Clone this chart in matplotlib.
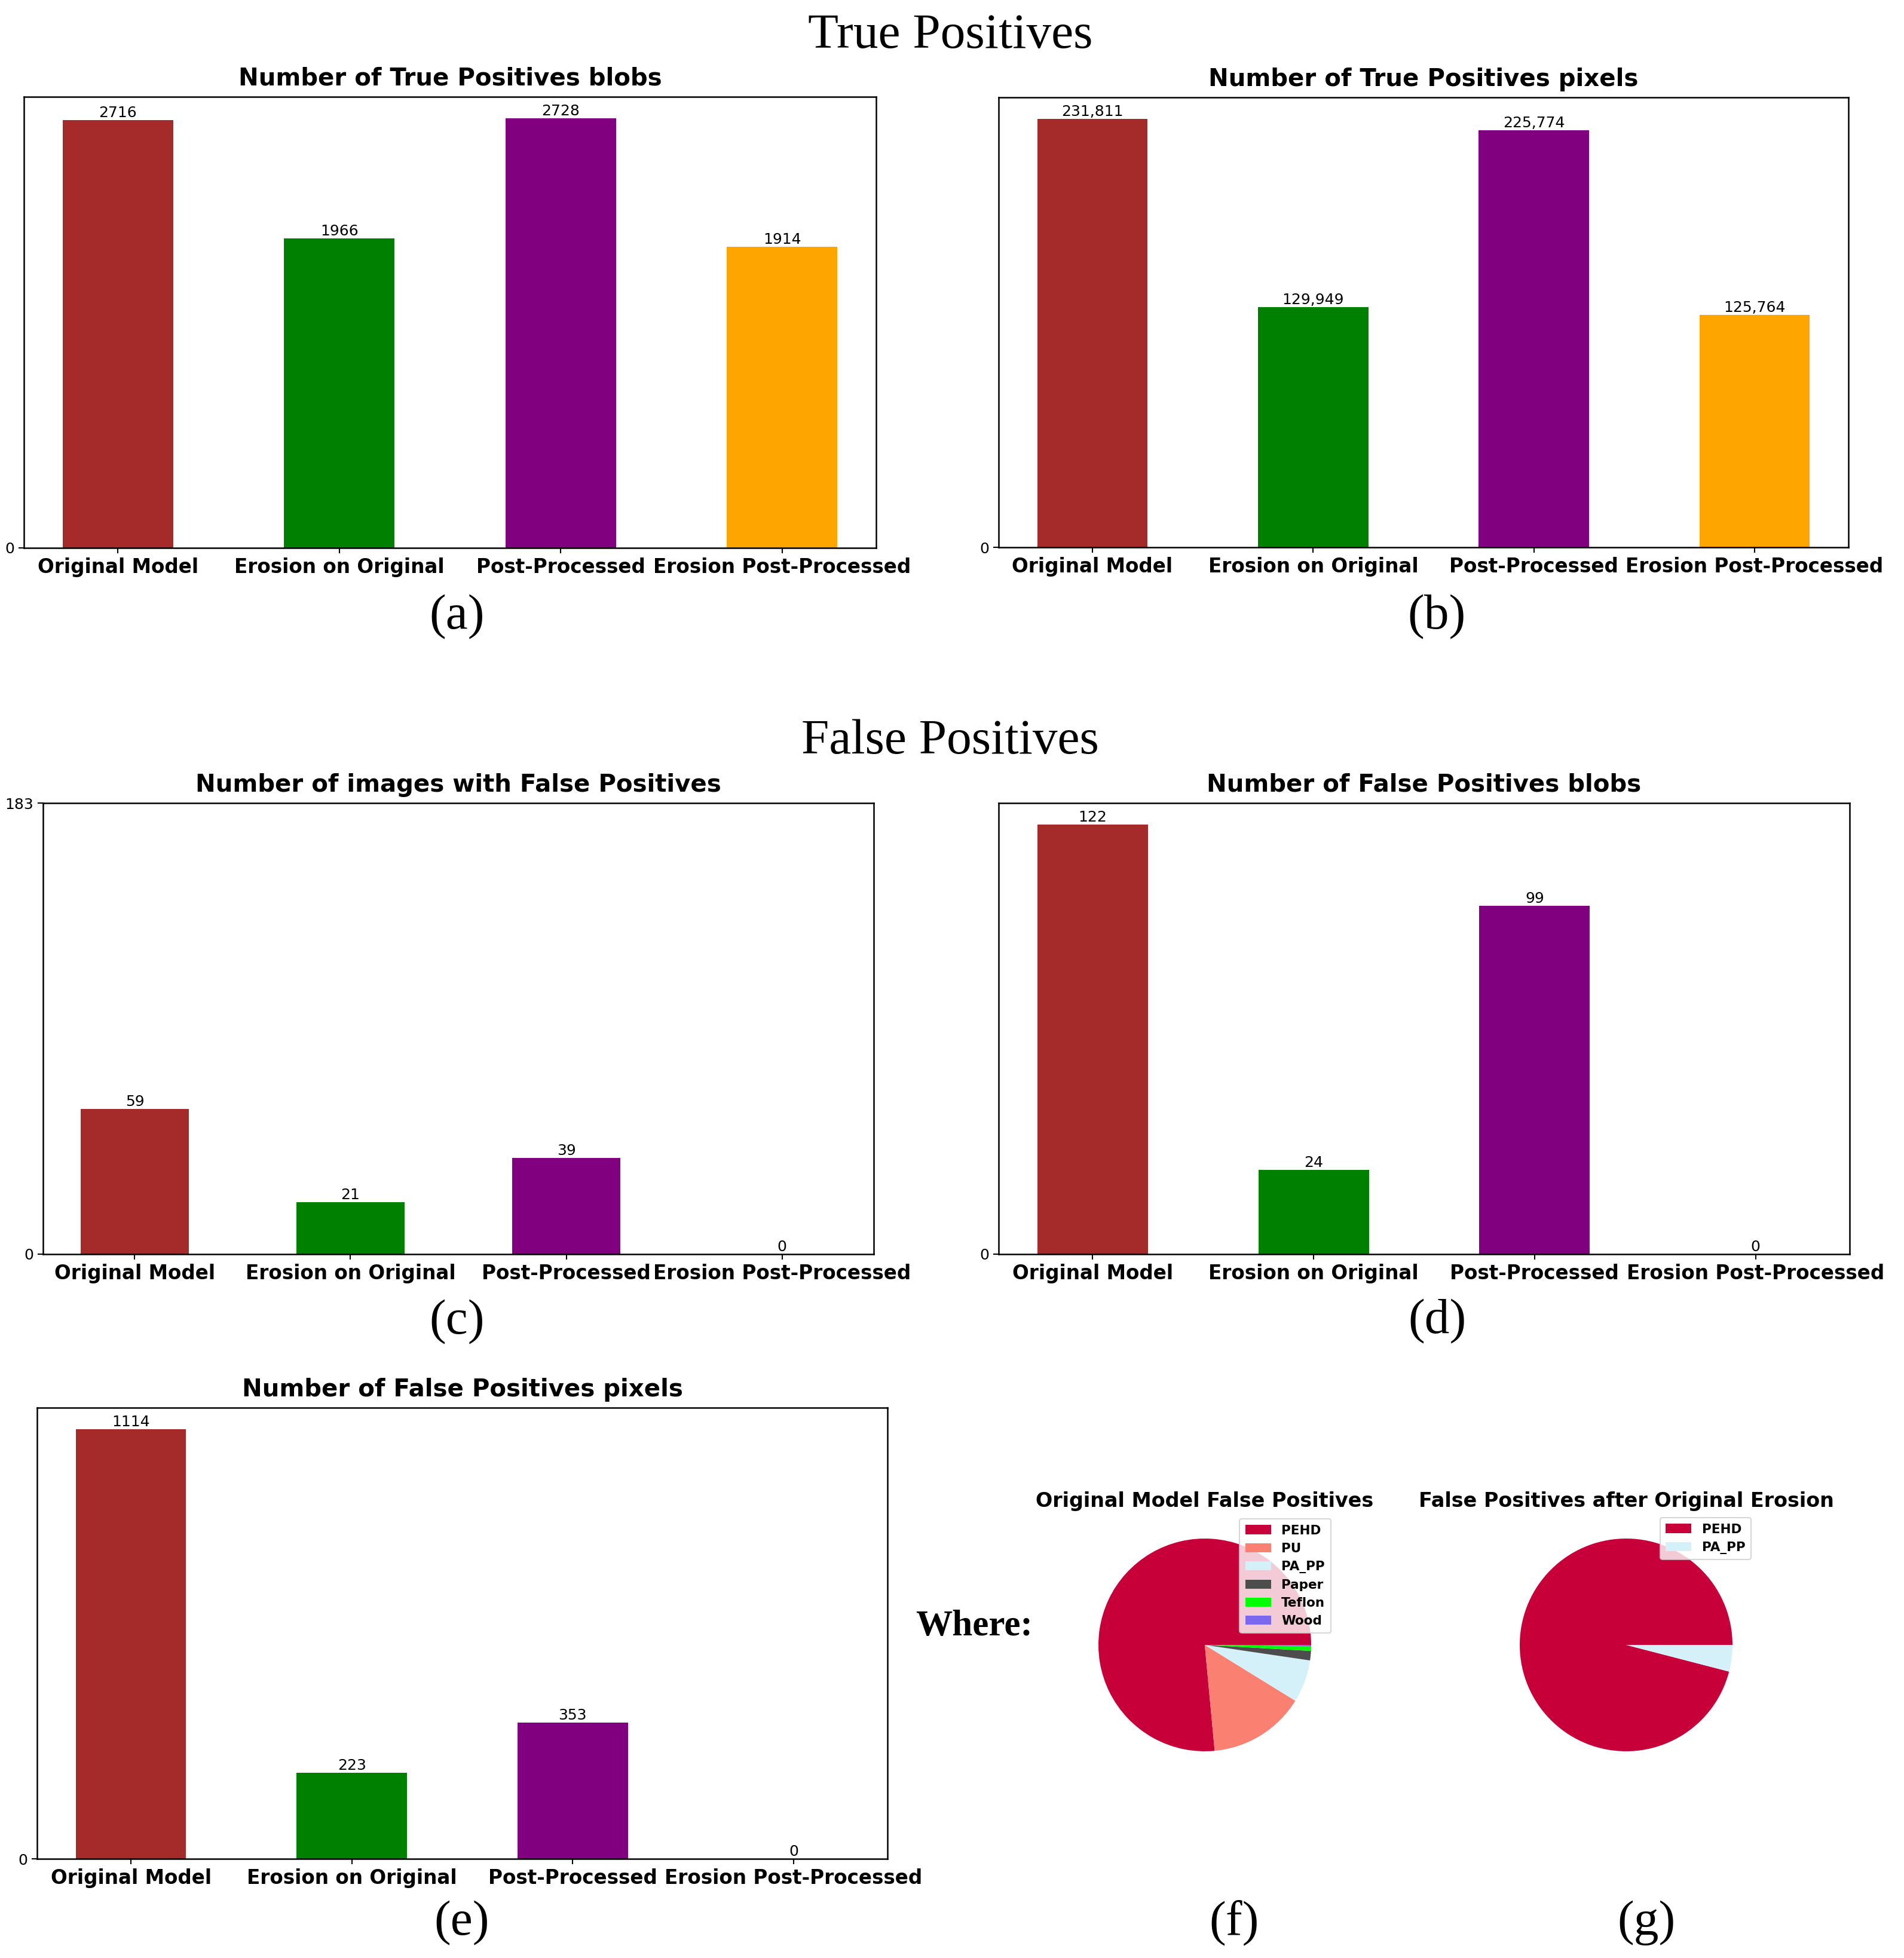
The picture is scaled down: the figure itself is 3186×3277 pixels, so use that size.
import matplotlib
matplotlib.use("Agg")
import matplotlib.pyplot as plt

# ---------------- data ----------------
categories = ["Original Model", "Erosion on Original", "Post-Processed", "Erosion Post-Processed"]
bar_colors = ["#A52A2A", "#008000", "#800080", "#FFA500"]

tp_blobs = [2716, 1966, 2728, 1914]
tp_pixels = [231811, 129949, 225774, 125764]
fp_images = [59, 21, 39, 0]
fp_images_total = 183
fp_blobs = [122, 24, 99, 0]
fp_pixels = [1114, 223, 353, 0]

pie_f_labels = ["PEHD", "PU", "PA_PP", "Paper", "Teflon", "Wood"]
pie_f_values = [852, 164, 72, 16, 8, 2]
pie_f_colors = ["#C70039", "#FA8072", "#D4F1F9", "#4D4D4D", "#00FF00", "#7B68EE"]

pie_g_labels = ["PEHD", "PA_PP"]
pie_g_values = [214, 9]
pie_g_colors = ["#C70039", "#D4F1F9"]

# ---------------- figure ----------------
W, H = 3186, 3277
DPI = 100
fig = plt.figure(figsize=(W / DPI, H / DPI), dpi=DPI)
fig.patch.set_facecolor("white")

SERIF = ["Liberation Serif", "DejaVu Serif"]


def add_ax(l, t, r, b):
    return fig.add_axes([l / W, 1 - b / H, (r - l) / W, (b - t) / H])


def ftext(x, y, s, **kw):
    fig.text(x / W, 1 - y / H, s, **kw)


def bar_panel(box, values, title, fmt="{:d}", ymax=None, yticks=None):
    ax = add_ax(*box)
    x = list(range(len(categories)))
    ax.bar(x, values, width=0.5, color=bar_colors)
    top = ymax if ymax is not None else 1.05 * max(values)
    ax.set_ylim(0, top)
    ax.set_xticks(x)
    ax.set_xticklabels(categories, fontsize=23.5, fontweight="bold")
    yt = yticks if yticks is not None else [0]
    ax.set_yticks(yt)
    ax.set_yticklabels([str(v) for v in yt], fontsize=18)
    ax.tick_params(axis="both", length=6.5, width=1.5, pad=5)
    for sp in ax.spines.values():
        sp.set_linewidth(1.8)
    for xi, v in zip(x, values):
        ax.text(xi, v, fmt.format(v), ha="center", va="bottom", fontsize=18)
    ax.set_title(title, fontsize=29, fontweight="bold", pad=14)
    return ax


bar_panel((40, 162, 1466, 917), tp_blobs, "Number of True Positives blobs")
bar_panel((1671, 163, 3093, 916), tp_pixels, "Number of True Positives pixels", fmt="{:,}")
bar_panel((72, 1344, 1462, 2099), fp_images, "Number of images with False Positives",
          ymax=fp_images_total, yticks=[0, fp_images_total])
bar_panel((1671, 1344, 3095, 2099), fp_blobs, "Number of False Positives blobs")
bar_panel((62, 2356, 1485, 3111), fp_pixels, "Number of False Positives pixels")

# ---------------- pies ----------------
def pie_panel(cx, cy, r, values, labels, colors, title, legend_right, legend_top):
    ax = add_ax(cx - r, cy - r, cx + r, cy + r)
    wedges, _ = ax.pie(values, colors=colors, startangle=0)
    ax.set_xlim(-1, 1)
    ax.set_ylim(-1, 1)
    ax.set_aspect("equal")
    ax.axis("off")
    leg = ax.legend(wedges, labels, loc="upper right",
                    bbox_to_anchor=(legend_right / W, 1 - legend_top / H),
                    bbox_transform=fig.transFigure, borderaxespad=0,
                    prop={"weight": "bold", "size": 15.5}, labelspacing=0.47,
                    handlelength=2.0, handleheight=0.72, borderpad=0.45)
    leg.get_frame().set_linewidth(1.5)
    ftext(cx, 2522, title, ha="center", va="baseline", fontsize=24, fontweight="bold")
    return ax


pie_panel(2016, 2753, 178, pie_f_values, pie_f_labels, pie_f_colors,
          "Original Model False Positives", 2227, 2542)
pie_panel(2721, 2753, 178, pie_g_values, pie_g_labels, pie_g_colors,
          "False Positives after Original Erosion", 2930, 2540)

# ---------------- headings & labels ----------------
ftext(1590, 80, "True Positives", ha="center", va="baseline", fontsize=60, family=SERIF)
ftext(1590, 1261, "False Positives", ha="center", va="baseline", fontsize=60, family=SERIF)
ftext(1532, 2737, "Where:", ha="left", va="baseline", fontsize=44, fontweight="bold", family=SERIF)

sub_labels = [("(a)", 765, 1052), ("(b)", 2404, 1052), ("(c)", 765, 2232),
              ("(d)", 2405, 2231), ("(e)", 773, 3238), ("(f)", 2065, 3238), ("(g)", 2755, 3238)]
for s, x, y in sub_labels:
    ftext(x, y, s, ha="center", va="baseline", fontsize=60, family=SERIF)

fig.savefig("out.png", dpi=DPI, facecolor="white")
